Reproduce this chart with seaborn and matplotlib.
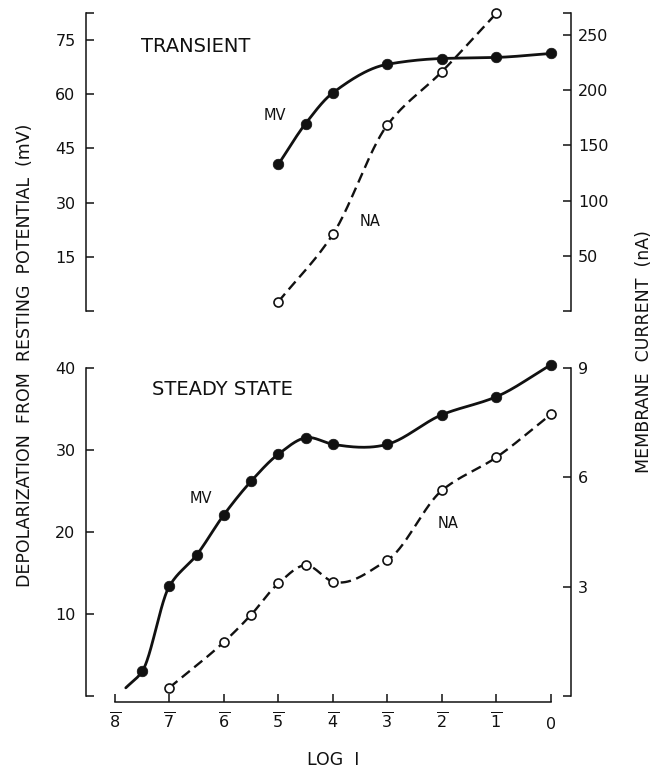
import numpy as np
import matplotlib
matplotlib.use("Agg")
import matplotlib.pyplot as plt
import seaborn as sns

# ---------------- data ----------------
# Transient (top panel)
tr_mv_x = [-5, -4.5, -4, -3, -2, -1, 0]
tr_mv_y = [40.6, 51.9, 60.4, 68.3, 69.9, 70.2, 71.3]          # mV (left axis)
tr_na_x = [-5, -4, -3, -2, -1]
tr_na_y = [8.4, 69.5, 168.5, 216.8, 269.7]                       # nA (right axis)

# Steady state (bottom panel)
ss_mv_x = [-7.5, -7, -6.5, -6, -5.5, -5, -4.5, -4, -3, -2, -1, 0]
ss_mv_y = [3.0, 13.4, 17.2, 22.1, 26.2, 29.5, 31.5, 30.7, 30.7, 34.3, 36.5, 40.4]
ss_mv_curve_start = (-7.8, 1.0)                                  # curve begins (no marker)
ss_na_x = [-7, -6, -5.5, -5, -4.5, -4, -3, -2, -1, 0]
ss_na_y = [0.23, 1.48, 2.23, 3.09, 3.59, 3.14, 3.73, 5.64, 6.55, 7.73]

x_ticks = [-8, -7, -6, -5, -4, -3, -2, -1, 0]
x_labels = [r"$\overline{8}$", r"$\overline{7}$", r"$\overline{6}$", r"$\overline{5}$",
            r"$\overline{4}$", r"$\overline{3}$", r"$\overline{2}$", r"$\overline{1}$", "0"]
tr_left_ticks = [15, 30, 45, 60, 75]
tr_right_ticks = [50, 100, 150, 200, 250]
ss_left_ticks = [10, 20, 30, 40]
ss_right_ticks = [3, 6, 9]

# ---------------- style ----------------
sns.set_theme(style="ticks")
plt.rcParams["font.family"] = ["DejaVu Sans"]
plt.rcParams["mathtext.fontset"] = "dejavusans"
INK = "#111111"


def smooth(xs, ys, n=40):
    """Cubic Hermite curve y(x) through the given points (drawn line only)."""
    x = np.asarray(xs, float)
    y = np.asarray(ys, float)
    h = np.diff(x)
    d = np.diff(y) / h
    m = np.empty_like(y)
    m[0], m[-1] = d[0], d[-1]
    for i in range(1, len(x) - 1):
        a, b = d[i - 1], d[i]
        if a * b > 0:
            w1 = 2 * h[i] + h[i - 1]
            w2 = h[i] + 2 * h[i - 1]
            m[i] = (w1 + w2) / (w1 / a + w2 / b)
        else:
            m[i] = (h[i - 1] * b + h[i] * a) / (h[i - 1] + h[i])
    cx, cy = [], []
    for i in range(len(x) - 1):
        t = np.linspace(0, 1, n, endpoint=False)
        h00 = 2 * t**3 - 3 * t**2 + 1
        h10 = t**3 - 2 * t**2 + t
        h01 = -2 * t**3 + 3 * t**2
        h11 = t**3 - t**2
        cx.append(x[i] + t * h[i])
        cy.append(h00 * y[i] + h10 * h[i] * m[i] + h01 * y[i + 1] + h11 * h[i] * m[i + 1])
    cx.append([x[-1]])
    cy.append([y[-1]])
    return np.concatenate(cx), np.concatenate(cy)


fig = plt.figure(figsize=(6.54, 7.69), dpi=100)
XLIM = (-8.53, 0.37)

ax_t = fig.add_axes([0.1315, 0.5956, 0.7416, 0.3875])
ax_b = fig.add_axes([0.1315, 0.0949, 0.7416, 0.4265])
ax_t2 = ax_t.twinx()
ax_b2 = ax_b.twinx()

TR_L = (0, 82.5)
TR_R = (0, 270)
SS_L = (0, 40)
SS_R = (0, 9)

for a in (ax_t, ax_t2, ax_b, ax_b2):
    a.set_xlim(*XLIM)
    a.set_facecolor("none")
    for s in a.spines.values():
        s.set_visible(False)
        s.set_linewidth(1.1)
        s.set_color(INK)

ax_t.set_ylim(*TR_L)
ax_t2.set_ylim(*TR_R)
ax_b.set_ylim(*SS_L)
ax_b2.set_ylim(*SS_R)

# ---------------- lines ----------------
def draw_line(ax, xs, ys, dashed=False, lw=2.0):
    cx, cy = smooth(xs, ys)
    sns.lineplot(x=cx, y=cy, ax=ax, color=INK, linewidth=lw, sort=False,
                 estimator=None, legend=False)
    ln = ax.lines[-1]
    ln.set_clip_on(False)
    if dashed:
        ln.set_dashes([4.4, 2.4])
        ln.set_dash_capstyle("butt")


def filled(ax, xs, ys):
    sns.scatterplot(x=xs, y=ys, ax=ax, color=INK, s=58, edgecolor=INK,
                    linewidth=0.5, zorder=5, clip_on=False, legend=False)


def hollow(ax, xs, ys):
    sns.scatterplot(x=xs, y=ys, ax=ax, facecolor="white", s=42, edgecolor=INK,
                    linewidth=1.2, zorder=5, clip_on=False, legend=False)


# top panel
draw_line(ax_t, tr_mv_x, tr_mv_y)
filled(ax_t, tr_mv_x, tr_mv_y)
draw_line(ax_t2, tr_na_x, tr_na_y, dashed=True, lw=1.7)
hollow(ax_t2, tr_na_x, tr_na_y)

# bottom panel
draw_line(ax_b, [ss_mv_curve_start[0]] + ss_mv_x, [ss_mv_curve_start[1]] + ss_mv_y)
filled(ax_b, ss_mv_x, ss_mv_y)
draw_line(ax_b2, ss_na_x, ss_na_y, dashed=True, lw=1.7)
hollow(ax_b2, ss_na_x, ss_na_y)

# ---------------- axes ----------------
TK = dict(direction="in", length=5.5, width=1.1, color=INK, labelsize=11.5, labelcolor=INK)

# top left
ax_t.spines["left"].set_visible(True)
ax_t.set_yticks([TR_L[0]] + tr_left_ticks + [TR_L[1]])
ax_t.set_yticklabels([""] + [str(v) for v in tr_left_ticks] + [""])
ax_t.tick_params(axis="y", left=True, right=False, pad=7.5, **TK)
ax_t.tick_params(axis="x", bottom=False, top=False, labelbottom=False, labeltop=False)
# top right
ax_t2.spines["right"].set_visible(True)
ax_t2.set_yticks([TR_R[0]] + tr_right_ticks + [TR_R[1]])
ax_t2.set_yticklabels([""] + [str(v) for v in tr_right_ticks] + [""])
ax_t2.tick_params(axis="y", right=True, left=False, pad=5, **TK)
ax_t2.tick_params(axis="x", bottom=False, top=False, labelbottom=False, labeltop=False)

# bottom left
ax_b.spines["left"].set_visible(True)
ax_b.set_yticks([SS_L[0]] + ss_left_ticks)
ax_b.set_yticklabels([""] + [str(v) for v in ss_left_ticks])
ax_b.tick_params(axis="y", left=True, right=False, pad=7.5, **TK)
# bottom x axis
ax_b.spines["bottom"].set_visible(True)
ax_b.spines["bottom"].set_position(("outward", 4.5))
ax_b.spines["bottom"].set_bounds(-8, 0)
ax_b.set_xticks(x_ticks)
ax_b.set_xticklabels(x_labels)
ax_b.tick_params(axis="x", bottom=True, top=False, labelbottom=True, pad=19, **TK)
for lab in ax_b.get_xticklabels():
    lab.set_verticalalignment("baseline")
# bottom right
ax_b2.spines["right"].set_visible(True)
ax_b2.set_yticks([SS_R[0]] + ss_right_ticks)
ax_b2.set_yticklabels([""] + [str(v) for v in ss_right_ticks])
ax_b2.tick_params(axis="y", right=True, left=False, pad=5, **TK)
ax_b2.tick_params(axis="x", bottom=False, top=False, labelbottom=False, labeltop=False)

for a in (ax_t, ax_t2, ax_b, ax_b2):
    a.set_xlabel("")
    a.set_ylabel("")

# ---------------- text ----------------
ax_t.text(-6.51, 73.2, "TRANSIENT", fontsize=14, ha="center", va="center", color=INK)
ax_t.text(-5.06, 54.1, "MV", fontsize=10.5, ha="center", va="center", color=INK)
ax_t.text(-3.32, 24.8, "NA", fontsize=10.5, ha="center", va="center", color=INK)
ax_b.text(-6.02, 37.4, "STEADY STATE", fontsize=14, ha="center", va="center", color=INK)
ax_b.text(-6.42, 24.1, "MV", fontsize=10.5, ha="center", va="center", color=INK)
ax_b.text(-1.89, 21.1, "NA", fontsize=10.5, ha="center", va="center", color=INK)

fig.text(25 / 654, 1 - 355 / 769, "DEPOLARIZATION  FROM  RESTING  POTENTIAL  (mV)",
         rotation=90, fontsize=12.5, ha="center", va="center", color=INK)
fig.text(644 / 654, 1 - 352 / 769, "MEMBRANE  CURRENT  (nA)",
         rotation=90, fontsize=12.5, ha="center", va="center", color=INK)
fig.text(333 / 654, 1 - 760 / 769, "LOG  I", fontsize=12.5, ha="center", va="center", color=INK)

fig.savefig("out.png", dpi=100, facecolor="white")
